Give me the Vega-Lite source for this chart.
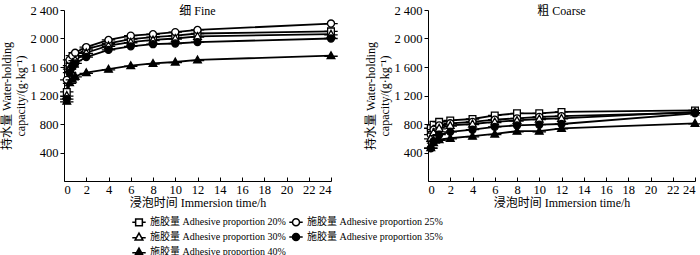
{
  "$schema": "https://vega.github.io/schema/vega-lite/v6.json",
  "padding": {"left": 0, "top": 4, "right": 0, "bottom": 0},
  "spacing": 23,
  "config": {
    "font": "'Liberation Serif', 'Noto Sans CJK SC'",
    "view": {"stroke": null},
    "axis": {"labelFont": "'Liberation Serif', 'Noto Sans CJK SC'", "titleFont": "'Liberation Serif', 'Noto Sans CJK SC'", "labelFontSize": 12.5, "titleFontSize": 12, "titleFontWeight": "normal", "labelColor": "#000", "titleColor": "#000", "domainColor": "#000", "tickColor": "#000", "grid": false},
    "legend": {"labelFont": "'Liberation Serif', 'Noto Sans CJK SC'", "labelFontSize": 10, "labelColor": "#000", "labelLimit": 300},
    "title": {"font": "'Liberation Serif', 'Noto Sans CJK SC'", "fontSize": 12, "fontWeight": "normal", "color": "#000"}
  },
  "data": {"values": [
    {"panel": "fine", "t": 0.25, "p": "施胶量 Adhesive proportion 20%", "v": 1250},
    {"panel": "fine", "t": 0.5, "p": "施胶量 Adhesive proportion 20%", "v": 1620},
    {"panel": "fine", "t": 0.75, "p": "施胶量 Adhesive proportion 20%", "v": 1700},
    {"panel": "fine", "t": 1, "p": "施胶量 Adhesive proportion 20%", "v": 1760},
    {"panel": "fine", "t": 2, "p": "施胶量 Adhesive proportion 20%", "v": 1850},
    {"panel": "fine", "t": 4, "p": "施胶量 Adhesive proportion 20%", "v": 1930},
    {"panel": "fine", "t": 6, "p": "施胶量 Adhesive proportion 20%", "v": 1990},
    {"panel": "fine", "t": 8, "p": "施胶量 Adhesive proportion 20%", "v": 2020},
    {"panel": "fine", "t": 10, "p": "施胶量 Adhesive proportion 20%", "v": 2040},
    {"panel": "fine", "t": 12, "p": "施胶量 Adhesive proportion 20%", "v": 2070},
    {"panel": "fine", "t": 24, "p": "施胶量 Adhesive proportion 20%", "v": 2100},
    {"panel": "fine", "t": 0.25, "p": "施胶量 Adhesive proportion 25%", "v": 1420},
    {"panel": "fine", "t": 0.5, "p": "施胶量 Adhesive proportion 25%", "v": 1700},
    {"panel": "fine", "t": 0.75, "p": "施胶量 Adhesive proportion 25%", "v": 1760},
    {"panel": "fine", "t": 1, "p": "施胶量 Adhesive proportion 25%", "v": 1800},
    {"panel": "fine", "t": 2, "p": "施胶量 Adhesive proportion 25%", "v": 1880},
    {"panel": "fine", "t": 4, "p": "施胶量 Adhesive proportion 25%", "v": 1980},
    {"panel": "fine", "t": 6, "p": "施胶量 Adhesive proportion 25%", "v": 2040},
    {"panel": "fine", "t": 8, "p": "施胶量 Adhesive proportion 25%", "v": 2060},
    {"panel": "fine", "t": 10, "p": "施胶量 Adhesive proportion 25%", "v": 2090},
    {"panel": "fine", "t": 12, "p": "施胶量 Adhesive proportion 25%", "v": 2120},
    {"panel": "fine", "t": 24, "p": "施胶量 Adhesive proportion 25%", "v": 2210},
    {"panel": "fine", "t": 0.25, "p": "施胶量 Adhesive proportion 30%", "v": 1200},
    {"panel": "fine", "t": 0.5, "p": "施胶量 Adhesive proportion 30%", "v": 1580},
    {"panel": "fine", "t": 0.75, "p": "施胶量 Adhesive proportion 30%", "v": 1660},
    {"panel": "fine", "t": 1, "p": "施胶量 Adhesive proportion 30%", "v": 1700},
    {"panel": "fine", "t": 2, "p": "施胶量 Adhesive proportion 30%", "v": 1800},
    {"panel": "fine", "t": 4, "p": "施胶量 Adhesive proportion 30%", "v": 1900},
    {"panel": "fine", "t": 6, "p": "施胶量 Adhesive proportion 30%", "v": 1950},
    {"panel": "fine", "t": 8, "p": "施胶量 Adhesive proportion 30%", "v": 1980},
    {"panel": "fine", "t": 10, "p": "施胶量 Adhesive proportion 30%", "v": 2000},
    {"panel": "fine", "t": 12, "p": "施胶量 Adhesive proportion 30%", "v": 2030},
    {"panel": "fine", "t": 24, "p": "施胶量 Adhesive proportion 30%", "v": 2060},
    {"panel": "fine", "t": 0.25, "p": "施胶量 Adhesive proportion 35%", "v": 1150},
    {"panel": "fine", "t": 0.5, "p": "施胶量 Adhesive proportion 35%", "v": 1520},
    {"panel": "fine", "t": 0.75, "p": "施胶量 Adhesive proportion 35%", "v": 1600},
    {"panel": "fine", "t": 1, "p": "施胶量 Adhesive proportion 35%", "v": 1650},
    {"panel": "fine", "t": 2, "p": "施胶量 Adhesive proportion 35%", "v": 1740},
    {"panel": "fine", "t": 4, "p": "施胶量 Adhesive proportion 35%", "v": 1840},
    {"panel": "fine", "t": 6, "p": "施胶量 Adhesive proportion 35%", "v": 1890},
    {"panel": "fine", "t": 8, "p": "施胶量 Adhesive proportion 35%", "v": 1920},
    {"panel": "fine", "t": 10, "p": "施胶量 Adhesive proportion 35%", "v": 1930},
    {"panel": "fine", "t": 12, "p": "施胶量 Adhesive proportion 35%", "v": 1950},
    {"panel": "fine", "t": 24, "p": "施胶量 Adhesive proportion 35%", "v": 2000},
    {"panel": "fine", "t": 0.25, "p": "施胶量 Adhesive proportion 40%", "v": 1120},
    {"panel": "fine", "t": 0.5, "p": "施胶量 Adhesive proportion 40%", "v": 1380},
    {"panel": "fine", "t": 0.75, "p": "施胶量 Adhesive proportion 40%", "v": 1430},
    {"panel": "fine", "t": 1, "p": "施胶量 Adhesive proportion 40%", "v": 1470},
    {"panel": "fine", "t": 2, "p": "施胶量 Adhesive proportion 40%", "v": 1520},
    {"panel": "fine", "t": 4, "p": "施胶量 Adhesive proportion 40%", "v": 1570},
    {"panel": "fine", "t": 6, "p": "施胶量 Adhesive proportion 40%", "v": 1620},
    {"panel": "fine", "t": 8, "p": "施胶量 Adhesive proportion 40%", "v": 1650},
    {"panel": "fine", "t": 10, "p": "施胶量 Adhesive proportion 40%", "v": 1670},
    {"panel": "fine", "t": 12, "p": "施胶量 Adhesive proportion 40%", "v": 1700},
    {"panel": "fine", "t": 24, "p": "施胶量 Adhesive proportion 40%", "v": 1760},
    {"panel": "coarse", "t": 0.25, "p": "施胶量 Adhesive proportion 20%", "v": 740},
    {"panel": "coarse", "t": 0.5, "p": "施胶量 Adhesive proportion 20%", "v": 790},
    {"panel": "coarse", "t": 1, "p": "施胶量 Adhesive proportion 20%", "v": 830},
    {"panel": "coarse", "t": 2, "p": "施胶量 Adhesive proportion 20%", "v": 850},
    {"panel": "coarse", "t": 4, "p": "施胶量 Adhesive proportion 20%", "v": 870},
    {"panel": "coarse", "t": 6, "p": "施胶量 Adhesive proportion 20%", "v": 920},
    {"panel": "coarse", "t": 8, "p": "施胶量 Adhesive proportion 20%", "v": 950},
    {"panel": "coarse", "t": 10, "p": "施胶量 Adhesive proportion 20%", "v": 950},
    {"panel": "coarse", "t": 12, "p": "施胶量 Adhesive proportion 20%", "v": 970},
    {"panel": "coarse", "t": 24, "p": "施胶量 Adhesive proportion 20%", "v": 990},
    {"panel": "coarse", "t": 0.25, "p": "施胶量 Adhesive proportion 25%", "v": 650},
    {"panel": "coarse", "t": 0.5, "p": "施胶量 Adhesive proportion 25%", "v": 720},
    {"panel": "coarse", "t": 1, "p": "施胶量 Adhesive proportion 25%", "v": 780},
    {"panel": "coarse", "t": 2, "p": "施胶量 Adhesive proportion 25%", "v": 810},
    {"panel": "coarse", "t": 4, "p": "施胶量 Adhesive proportion 25%", "v": 830},
    {"panel": "coarse", "t": 6, "p": "施胶量 Adhesive proportion 25%", "v": 860},
    {"panel": "coarse", "t": 8, "p": "施胶量 Adhesive proportion 25%", "v": 880},
    {"panel": "coarse", "t": 10, "p": "施胶量 Adhesive proportion 25%", "v": 900},
    {"panel": "coarse", "t": 12, "p": "施胶量 Adhesive proportion 25%", "v": 910},
    {"panel": "coarse", "t": 24, "p": "施胶量 Adhesive proportion 25%", "v": 960},
    {"panel": "coarse", "t": 0.25, "p": "施胶量 Adhesive proportion 30%", "v": 600},
    {"panel": "coarse", "t": 0.5, "p": "施胶量 Adhesive proportion 30%", "v": 680},
    {"panel": "coarse", "t": 1, "p": "施胶量 Adhesive proportion 30%", "v": 740},
    {"panel": "coarse", "t": 2, "p": "施胶量 Adhesive proportion 30%", "v": 780},
    {"panel": "coarse", "t": 4, "p": "施胶量 Adhesive proportion 30%", "v": 800},
    {"panel": "coarse", "t": 6, "p": "施胶量 Adhesive proportion 30%", "v": 830},
    {"panel": "coarse", "t": 8, "p": "施胶量 Adhesive proportion 30%", "v": 850},
    {"panel": "coarse", "t": 10, "p": "施胶量 Adhesive proportion 30%", "v": 870},
    {"panel": "coarse", "t": 12, "p": "施胶量 Adhesive proportion 30%", "v": 880},
    {"panel": "coarse", "t": 24, "p": "施胶量 Adhesive proportion 30%", "v": 970},
    {"panel": "coarse", "t": 0.25, "p": "施胶量 Adhesive proportion 35%", "v": 460},
    {"panel": "coarse", "t": 0.5, "p": "施胶量 Adhesive proportion 35%", "v": 560},
    {"panel": "coarse", "t": 1, "p": "施胶量 Adhesive proportion 35%", "v": 650},
    {"panel": "coarse", "t": 2, "p": "施胶量 Adhesive proportion 35%", "v": 690},
    {"panel": "coarse", "t": 4, "p": "施胶量 Adhesive proportion 35%", "v": 720},
    {"panel": "coarse", "t": 6, "p": "施胶量 Adhesive proportion 35%", "v": 760},
    {"panel": "coarse", "t": 8, "p": "施胶量 Adhesive proportion 35%", "v": 780},
    {"panel": "coarse", "t": 10, "p": "施胶量 Adhesive proportion 35%", "v": 790},
    {"panel": "coarse", "t": 12, "p": "施胶量 Adhesive proportion 35%", "v": 800},
    {"panel": "coarse", "t": 24, "p": "施胶量 Adhesive proportion 35%", "v": 950},
    {"panel": "coarse", "t": 0.25, "p": "施胶量 Adhesive proportion 40%", "v": 470},
    {"panel": "coarse", "t": 0.5, "p": "施胶量 Adhesive proportion 40%", "v": 540},
    {"panel": "coarse", "t": 1, "p": "施胶量 Adhesive proportion 40%", "v": 580},
    {"panel": "coarse", "t": 2, "p": "施胶量 Adhesive proportion 40%", "v": 600},
    {"panel": "coarse", "t": 4, "p": "施胶量 Adhesive proportion 40%", "v": 630},
    {"panel": "coarse", "t": 6, "p": "施胶量 Adhesive proportion 40%", "v": 660},
    {"panel": "coarse", "t": 8, "p": "施胶量 Adhesive proportion 40%", "v": 700},
    {"panel": "coarse", "t": 10, "p": "施胶量 Adhesive proportion 40%", "v": 700},
    {"panel": "coarse", "t": 12, "p": "施胶量 Adhesive proportion 40%", "v": 740},
    {"panel": "coarse", "t": 24, "p": "施胶量 Adhesive proportion 40%", "v": 810}
  ]},
  "resolve": {"scale": {"shape": "shared", "fill": "shared"}},
  "hconcat": [
    {
      "width": 267, "height": 171,
      "title": {"text": "细 Fine", "offset": -14, "anchor": "middle"},
      "transform": [{"filter": "datum.panel == 'fine'"}],
      "encoding": {
        "x": {"field": "t", "type": "quantitative", "scale": {"domain": [0, 24], "nice": false}, "axis": {"values": [0,2,4,6,8,10,12,14,16,18,20,22,24], "tickSize": -4, "labelPadding": 6, "title": "浸泡时间 Immersion time/h", "titlePadding": 2}},
        "y": {"field": "v", "type": "quantitative", "scale": {"domain": [0, 2400], "nice": false}, "axis": {"values": [400,800,1200,1600,2000,2400], "labelExpr": "replace(format(datum.value, ','), ',', ' ')", "tickSize": 4, "title": ["持水量 Water-holding", "capacity/(g·kg⁻¹)"], "titlePadding": 2}}
      },
      "layer": [
        {"mark": {"type": "line", "color": "#000", "strokeWidth": 1.8}, "encoding": {"detail": {"field": "p"}}},
        {"mark": {"type": "point", "stroke": "#000", "strokeWidth": 1.3, "size": 45, "opacity": 1},
         "encoding": {
           "shape": {"field": "p", "type": "nominal", "title": null,
             "scale": {"range": [
               "M-2,0H-1M1,0H2M-1,-1H1V1H-1Z",
               "M-2,0H-1.05M1.05,0H2M-1.05,0A1.05,1.05 0 1,0 1.05,0A1.05,1.05 0 1,0 -1.05,0Z",
               "M-2,0.2H-0.74M0.74,0.2H2M0,-1.15L1.15,0.9H-1.15Z",
               "M-2,0H-1.05M1.05,0H2M-1.05,0A1.05,1.05 0 1,0 1.05,0A1.05,1.05 0 1,0 -1.05,0Z",
               "M-2,0.2H-0.74M0.74,0.2H2M0,-1.15L1.15,0.9H-1.15Z"
             ]},
             "legend": {"title": null, "orient": "none", "legendX": 70, "legendY": 207, "columns": 2, "direction": "horizontal", "columnPadding": 0, "rowPadding": 1, "symbolSize": 45, "labelOffset": 6,
               "encode": {"symbols": {"update": {"stroke": {"value": "#000"}, "strokeWidth": {"value": 1.2}, "fill": {"signal": "(indexof(datum.value, '35%') >= 0 || indexof(datum.value, '40%') >= 0) ? '#000' : '#fff'"}}}}}},
           "fill": {"field": "p", "type": "nominal", "title": null, "scale": {"range": ["#fff", "#fff", "#fff", "#000", "#000"]}, "legend": null}
         }}
      ]
    },
    {
      "width": 267, "height": 171,
      "title": {"text": "粗 Coarse", "offset": -14, "anchor": "middle"},
      "transform": [{"filter": "datum.panel == 'coarse'"}],
      "encoding": {
        "x": {"field": "t", "type": "quantitative", "scale": {"domain": [0, 24], "nice": false}, "axis": {"values": [0,2,4,6,8,10,12,14,16,18,20,22,24], "tickSize": -4, "labelPadding": 6, "title": "浸泡时间 Immersion time/h", "titlePadding": 2}},
        "y": {"field": "v", "type": "quantitative", "scale": {"domain": [0, 2400], "nice": false}, "axis": {"values": [400,800,1200,1600,2000,2400], "labelExpr": "replace(format(datum.value, ','), ',', ' ')", "tickSize": 4, "title": ["持水量 Water-holding", "capacity/(g·kg⁻¹)"], "titlePadding": 2}}
      },
      "layer": [
        {"mark": {"type": "line", "color": "#000", "strokeWidth": 1.8}, "encoding": {"detail": {"field": "p"}}},
        {"mark": {"type": "point", "stroke": "#000", "strokeWidth": 1.3, "size": 45, "opacity": 1},
         "encoding": {
           "shape": {"field": "p", "type": "nominal", "title": null, "legend": null},
           "fill": {"field": "p", "type": "nominal", "title": null, "legend": null}
         }}
      ]
    }
  ]
}
